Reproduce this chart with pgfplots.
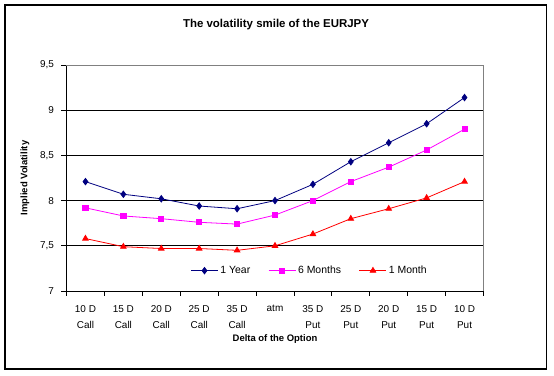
\documentclass[border=0pt]{standalone}
\usepackage{pgfplots}
\pgfplotsset{compat=1.18}
\usepackage{fontspec}
\setmainfont{Liberation Sans}
\definecolor{navy}{RGB}{0,0,128}
\definecolor{mag}{RGB}{255,0,255}
\definecolor{red1}{RGB}{255,0,0}
\begin{document}
\begin{tikzpicture}
\useasboundingbox (-66.5bp,-85bp) rectangle (487.5bp,291bp);
\draw[black, line width=1.2bp] (-61.5bp,-78bp) rectangle (480bp,286bp);
\node[font=\bfseries\fontsize{11.5}{13}\selectfont] at (209.5bp,266bp) {The volatility smile of the EURJPY};
\begin{axis}[
  at={(0,0)}, anchor=south west,
  scale only axis, width=417bp, height=226bp,
  xmin=-0.5, xmax=10.5, ymin=7, ymax=9.5,
  axis x line*=bottom, axis y line*=left,
  axis line style={black, line width=0.9bp},
  tick align=outside,
  xtick={0,...,10},
  xticklabels={{10 D\\Call},{15 D\\Call},{20 D\\Call},{25 D\\Call},{35 D\\Call},{atm\\\phantom{P}},{35 D\\Put},{25 D\\Put},{20 D\\Put},{15 D\\Put},{10 D\\Put}},
  xticklabel style={align=center, font=\fontsize{10}{16}\selectfont, yshift=-6bp},
  major x tick style={draw=none},
  minor xtick={-0.5,0.5,...,10.5},
  minor tick length=5bp,
  major tick length=5bp,
  tick style={black, line width=0.9bp},
  ytick={7,7.5,...,9.5},
  yticklabel style={font=\fontsize{10}{12}\selectfont, xshift=-4bp},
  /pgf/number format/.cd, use comma, 1000 sep={}, assume math mode=true,
  /pgfplots/.cd,
  ymajorgrids,
  grid style={black, line width=0.9bp},
  xlabel={\bfseries Delta of the Option},
  ylabel={\bfseries Implied Volatility},
  label style={font=\bfseries\fontsize{9.5}{11}\selectfont},
  xlabel style={yshift=1bp},
  ylabel style={yshift=4bp},
  legend style={at={(rel axis cs:0.29,0.09)}, anchor=west, draw=none, fill=none,
    legend columns=3, font=\fontsize{10.5}{12}\selectfont,
    /tikz/every even column/.append style={column sep=16bp}},
  legend image code/.code={\draw[mark repeat=2,mark phase=2] plot coordinates {(0bp,0bp)(13.5bp,0bp)(27bp,0bp)};},
  clip=false,
]
\addplot[navy, line width=0.8bp, mark=diamond*, mark size=3.2bp, mark options={solid}] coordinates {
(0,8.21)(1,8.07)(2,8.02)(3,7.94)(4,7.91)(5,8.00)(6,8.18)(7,8.43)(8,8.64)(9,8.85)(10,9.14)};
\addlegendentry{1 Year}
\addplot[mag, line width=0.8bp, mark=square*, mark size=2.6bp] coordinates {
(0,7.92)(1,7.83)(2,7.80)(3,7.76)(4,7.74)(5,7.84)(6,8.00)(7,8.21)(8,8.37)(9,8.56)(10,8.79)};
\addlegendentry{6 Months}
\addplot[red1, line width=0.8bp, mark=triangle*, mark size=3.2bp] coordinates {
(0,7.58)(1,7.49)(2,7.47)(3,7.47)(4,7.45)(5,7.50)(6,7.63)(7,7.80)(8,7.91)(9,8.03)(10,8.21)};
\addlegendentry{1 Month}
\draw[gray, line width=0.9bp] (rel axis cs:0,1) -- (rel axis cs:1,1) -- (rel axis cs:1,0);
\end{axis}
\end{tikzpicture}
\end{document}
